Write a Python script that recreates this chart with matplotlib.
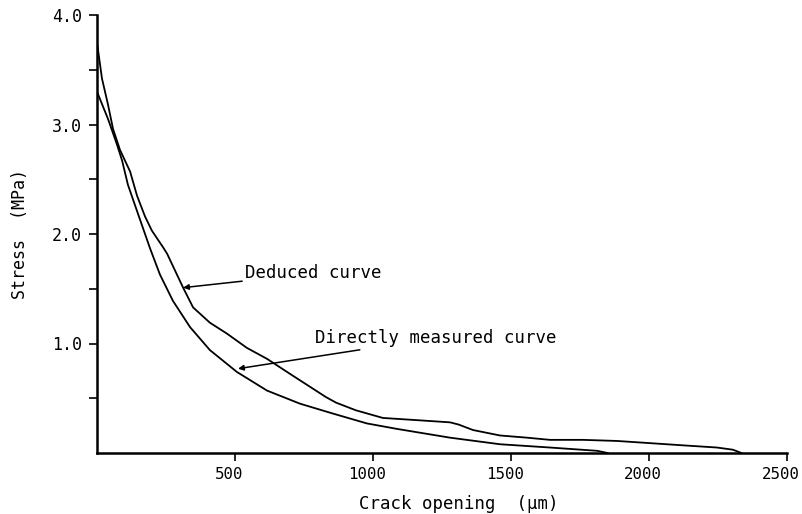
import numpy as np
import matplotlib
matplotlib.use("Agg")
import matplotlib.pyplot as plt
import matplotlib.transforms as mtransforms

# Deduced curve (crack opening in um, stress in MPa)
deduced_x = [0, 0, 18, 40, 58, 83, 120, 145, 174, 199, 239, 254, 312, 348, 409,
             471, 543, 616, 707, 830, 866, 938, 1036, 1098, 1159, 1279, 1310,
             1362, 1460, 1558, 1641, 1761, 1884, 2004, 2123, 2246, 2304, 2335]
deduced_y = [4.0, 3.75, 3.42, 3.18, 2.96, 2.77, 2.57, 2.35, 2.16, 2.03, 1.88,
             1.82, 1.51, 1.33, 1.19, 1.09, 0.96, 0.86, 0.71, 0.51, 0.46, 0.39,
             0.32, 0.31, 0.30, 0.28, 0.26, 0.21, 0.16, 0.14, 0.12, 0.12, 0.11,
             0.09, 0.07, 0.05, 0.03, 0.0]

# Directly measured curve
measured_x = [0, 40, 72, 91, 112, 145, 192, 228, 275, 337, 409, 507, 616, 736,
              855, 978, 1087, 1279, 1460, 1641, 1812, 1850]
measured_y = [3.30, 3.05, 2.82, 2.67, 2.45, 2.21, 1.87, 1.63, 1.39, 1.15, 0.94,
              0.74, 0.57, 0.45, 0.36, 0.27, 0.22, 0.14, 0.08, 0.05, 0.02, 0.0]

x_ticks = [500, 1000, 1500, 2000, 2500]
y_ticks = [1.0, 2.0, 3.0, 4.0]
y_minor = [0.5, 1.5, 2.5, 3.5]

plt.rcParams['font.family'] = ['DejaVu Sans Mono']

fig = plt.figure(figsize=(8.03, 5.14), dpi=100)
ax = fig.add_axes([97 / 803, 1 - 453 / 514, (787 - 97) / 803, (453 - 15) / 514])

ax.plot(deduced_x, deduced_y, color='black', lw=1.3)
ax.plot(measured_x, measured_y, color='black', lw=1.3)

ax.set_xlim(0, 2500)
ax.set_ylim(0, 4.0)

ax.set_xticks(x_ticks)
ax.set_xticklabels([str(t) for t in x_ticks])
ax.set_yticks(y_ticks)
ax.set_yticklabels(['%.1f' % t for t in y_ticks])
ax.set_yticks(y_minor, minor=True)
ax.tick_params(axis='both', direction='out', length=6, width=1.2,
               pad=4, colors='black')
ax.tick_params(axis='x', labelsize=11.3)
ax.tick_params(axis='y', labelsize=12, pad=5)
ax.tick_params(axis='y', which='minor', direction='out', length=6, width=1.2)

# x tick labels sit a little left of their ticks in the original
shift = mtransforms.ScaledTranslation(-6 / 100, 0, fig.dpi_scale_trans)
for lab in ax.get_xticklabels():
    lab.set_transform(lab.get_transform() + shift)

for side in ['top', 'right']:
    ax.spines[side].set_visible(False)
for side in ['left', 'bottom']:
    ax.spines[side].set_linewidth(1.8)

ax.set_xlabel('Crack opening  (\u03bcm)', fontsize=12.5)
ax.xaxis.set_label_coords(0.525, -0.095)
ax.set_ylabel('Stress  (MPa)', fontsize=12, labelpad=16)

# Annotations with arrows pointing at the curves
ax.annotate('Deduced curve', xy=(312, 1.51), xytext=(536, 1.64),
            fontsize=12.5, va='center', ha='left',
            arrowprops=dict(arrowstyle='-|>', color='black', lw=1.1,
                            mutation_scale=8, shrinkA=0, shrinkB=0))
ax.annotate('Directly measured curve', xy=(511, 0.77), xytext=(790, 1.05),
            fontsize=12.5, va='center', ha='left',
            arrowprops=dict(arrowstyle='-|>', color='black', lw=1.1,
                            mutation_scale=8, shrinkA=0, shrinkB=0))

fig.savefig('out.png', dpi=100)
